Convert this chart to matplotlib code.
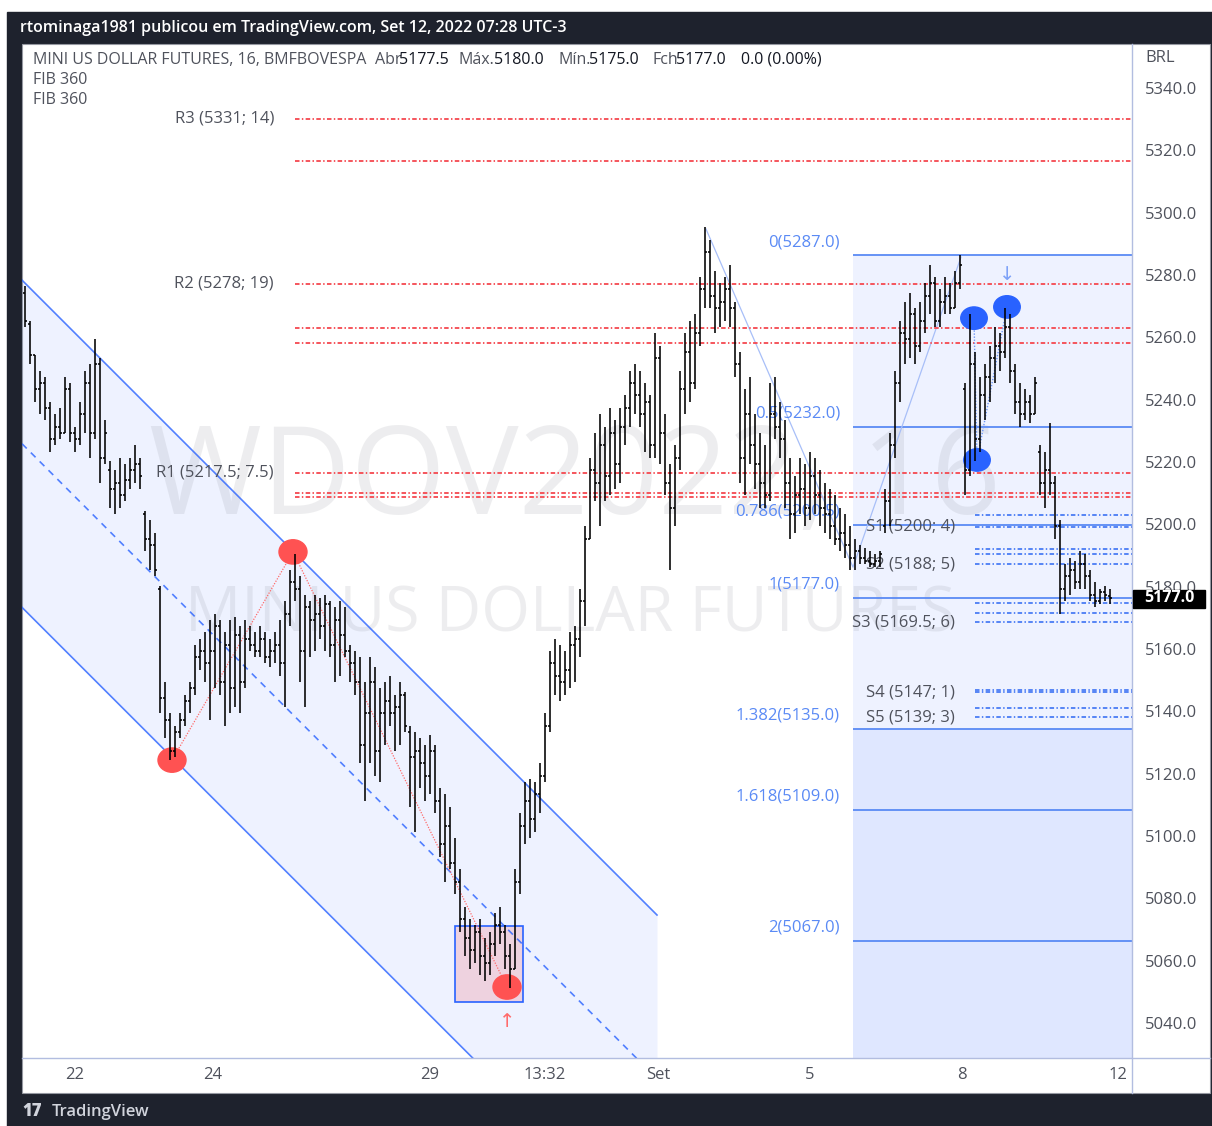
import matplotlib
matplotlib.use('Agg')
import matplotlib.pyplot as plt
from matplotlib.patches import Rectangle, Ellipse
from matplotlib.collections import LineCollection
import matplotlib.transforms as mtransforms
from matplotlib.lines import Line2D

plt.rcParams['font.family'] = ['Open Sans', 'DejaVu Sans']

# ---------------- data (16-min OHLC bars, WDOV2022) ----------------
opens = [5275, 5265, 5255, 5244, 5246, 5238, 5228, 5232, 5230, 5244,
         5230, 5228, 5236, 5246, 5230, 5252, 5222, 5218, 5212, 5214,
         5210, 5215, 5218, 5220, 5204, 5196, 5194, 5180, 5145, 5138,
         5128, 5134, 5138, 5144, 5148, 5158, 5160, 5156, 5160, 5168,
         5150, 5162, 5148, 5165, 5150, 5164, 5162, 5160, 5164, 5158,
         5160, 5162, 5156, 5172, 5182, 5180, 5160, 5174, 5170, 5172,
         5168, 5175, 5162, 5170, 5165, 5160, 5156, 5150, 5130, 5140,
         5150, 5128, 5140, 5144, 5140, 5142, 5146, 5134, 5126, 5128,
         5124, 5120, 5128, 5112, 5098, 5104, 5092, 5086, 5074, 5068,
         5064, 5070, 5062, 5060, 5066, 5072, 5070, 5062, 5058, 5086,
         5104, 5112, 5106, 5114, 5120, 5136, 5156, 5152, 5150, 5154,
         5162, 5164, 5176, 5196, 5218, 5214, 5226, 5216, 5230, 5220,
         5232, 5238, 5246, 5242, 5236, 5240, 5226, 5254, 5230, 5214,
         5206, 5222, 5244, 5256, 5246, 5262, 5276, 5288, 5274, 5270,
         5272, 5276, 5270, 5252, 5222, 5236, 5226, 5220, 5214, 5210,
         5236, 5232, 5228, 5214, 5204, 5210, 5212, 5206, 5216, 5210,
         5206, 5204, 5200, 5196, 5198, 5194, 5190, 5192, 5190, 5189,
         5188, 5189, 5200, 5208, 5226, 5246, 5262, 5260, 5268, 5258,
         5266, 5274, 5278, 5266, 5272, 5274, 5270, 5278, 5244, 5218,
         5252, 5228, 5242, 5248, 5254, 5258, 5256, 5264, 5250, 5240,
         5236, 5240, 5236, 5224, 5214, 5218, 5214, 5200, 5180, 5184,
         5186, 5182, 5188, 5184, 5178, 5176, 5179, 5177.5]
highs = [5277, 5266, 5255, 5250, 5248, 5240, 5236, 5238, 5248, 5246,
         5232, 5240, 5250, 5252, 5260, 5254, 5234, 5221, 5218, 5222,
         5220, 5222, 5226, 5222, 5205, 5202, 5198, 5181, 5150, 5140,
         5136, 5140, 5146, 5150, 5162, 5164, 5166, 5170, 5172, 5170,
         5166, 5170, 5171, 5168, 5170, 5168, 5166, 5168, 5166, 5164,
         5166, 5170, 5176, 5186, 5191, 5184, 5178, 5176, 5178, 5177,
         5178, 5176, 5174, 5176, 5174, 5162, 5160, 5158, 5150, 5158,
         5155, 5148, 5150, 5152, 5146, 5150, 5147, 5136, 5134, 5132,
         5130, 5133, 5130, 5116, 5114, 5110, 5100, 5090, 5078, 5074,
         5072, 5074, 5068, 5070, 5076, 5078, 5072, 5066, 5090, 5108,
         5118, 5119, 5118, 5124, 5140, 5160, 5164, 5162, 5160, 5166,
         5168, 5180, 5200, 5222, 5230, 5236, 5232, 5238, 5234, 5238,
         5242, 5250, 5252, 5250, 5246, 5242, 5262, 5258, 5236, 5220,
         5226, 5250, 5262, 5266, 5268, 5280, 5296, 5292, 5282, 5278,
         5280, 5284, 5272, 5256, 5244, 5248, 5236, 5230, 5226, 5246,
         5248, 5240, 5234, 5222, 5216, 5222, 5220, 5224, 5222, 5218,
         5214, 5212, 5210, 5206, 5204, 5200, 5196, 5194, 5193, 5192,
         5191, 5192, 5212, 5230, 5250, 5266, 5272, 5275, 5270, 5272,
         5278, 5284, 5280, 5276, 5280, 5278, 5282, 5287, 5246, 5268,
         5256, 5248, 5252, 5258, 5264, 5262, 5270, 5268, 5252, 5246,
         5244, 5242, 5248, 5226, 5224, 5233, 5216, 5202, 5188, 5190,
         5189, 5192, 5191, 5186, 5182, 5180, 5181, 5180]
lows = [5264, 5252, 5240, 5236, 5234, 5224, 5226, 5228, 5230, 5227,
        5224, 5226, 5230, 5222, 5228, 5214, 5220, 5206, 5204, 5206,
        5208, 5212, 5214, 5212, 5192, 5186, 5184, 5140, 5132, 5125,
        5126, 5132, 5136, 5140, 5146, 5154, 5150, 5138, 5148, 5146,
        5136, 5140, 5142, 5140, 5148, 5160, 5158, 5158, 5156, 5155,
        5156, 5152, 5142, 5168, 5176, 5150, 5142, 5158, 5160, 5164,
        5160, 5158, 5150, 5152, 5158, 5150, 5146, 5124, 5112, 5124,
        5120, 5118, 5130, 5136, 5128, 5130, 5134, 5110, 5102, 5116,
        5112, 5114, 5108, 5094, 5086, 5090, 5082, 5070, 5062, 5058,
        5060, 5056, 5054, 5056, 5062, 5066, 5058, 5052, 5058, 5082,
        5098, 5100, 5102, 5108, 5118, 5134, 5146, 5144, 5146, 5148,
        5150, 5158, 5168, 5196, 5208, 5200, 5208, 5210, 5212, 5214,
        5226, 5232, 5236, 5232, 5224, 5222, 5222, 5220, 5210, 5186,
        5200, 5218, 5236, 5240, 5244, 5258, 5270, 5270, 5262, 5264,
        5266, 5264, 5248, 5214, 5210, 5220, 5212, 5206, 5206, 5208,
        5228, 5222, 5206, 5196, 5198, 5204, 5200, 5202, 5204, 5200,
        5198, 5196, 5194, 5192, 5190, 5186, 5186, 5188, 5188, 5187,
        5187, 5187, 5198, 5200, 5222, 5240, 5252, 5254, 5252, 5256,
        5262, 5268, 5264, 5264, 5268, 5268, 5270, 5276, 5210, 5216,
        5221, 5224, 5234, 5240, 5246, 5250, 5254, 5246, 5236, 5232,
        5234, 5233, 5236, 5210, 5206, 5210, 5196, 5172, 5176, 5178,
        5180, 5180, 5180, 5176, 5174, 5175, 5176, 5175]
closes = [5266, 5255, 5244, 5246, 5238, 5228, 5232, 5230, 5244, 5230,
          5228, 5236, 5246, 5230, 5252, 5222, 5230, 5212, 5214, 5210,
          5215, 5218, 5220, 5216, 5196, 5194, 5186, 5145, 5138, 5128,
          5134, 5138, 5144, 5148, 5158, 5160, 5156, 5160, 5168, 5150,
          5162, 5148, 5165, 5150, 5164, 5162, 5160, 5164, 5158, 5160,
          5162, 5156, 5172, 5182, 5180, 5160, 5174, 5170, 5172, 5168,
          5175, 5162, 5170, 5165, 5160, 5156, 5150, 5130, 5140, 5150,
          5128, 5140, 5144, 5140, 5142, 5146, 5136, 5126, 5128, 5124,
          5120, 5128, 5112, 5098, 5104, 5092, 5086, 5074, 5068, 5064,
          5070, 5062, 5060, 5066, 5072, 5070, 5062, 5058, 5086, 5104,
          5112, 5106, 5114, 5120, 5136, 5156, 5152, 5150, 5154, 5162,
          5164, 5176, 5196, 5218, 5214, 5226, 5216, 5230, 5220, 5232,
          5238, 5246, 5242, 5236, 5240, 5226, 5254, 5230, 5214, 5206,
          5222, 5244, 5256, 5246, 5262, 5276, 5288, 5274, 5270, 5272,
          5276, 5270, 5252, 5222, 5236, 5226, 5220, 5214, 5210, 5236,
          5232, 5228, 5214, 5204, 5210, 5212, 5206, 5216, 5210, 5206,
          5204, 5200, 5196, 5198, 5194, 5190, 5192, 5190, 5189, 5188,
          5189, 5191, 5208, 5226, 5246, 5262, 5260, 5268, 5258, 5266,
          5274, 5278, 5266, 5272, 5274, 5270, 5278, 5284, 5218, 5252,
          5228, 5242, 5248, 5254, 5258, 5256, 5264, 5250, 5240, 5236,
          5240, 5236, 5246, 5214, 5218, 5214, 5200, 5180, 5184, 5186,
          5182, 5188, 5184, 5178, 5176, 5179, 5178, 5177]

date_labels = ['22', '24', '29', '13:32', 'Set', '5', '8', '12']
date_label_bars = [10, 37.6, 81, 104, 126.6, 157, 187.4, 218.6]
price_ticks = [5340, 5320, 5300, 5280, 5260, 5240, 5220, 5200, 5180,
               5160, 5140, 5120, 5100, 5080, 5060, 5040]

# pivot levels (FIB 360)
r_levels = [5330.7, 5317.2, 5277.8, 5263.7, 5258.7, 5217.2, 5210.8, 5209.5]
r_labels = [(5330.7, 'R3 (5331; 14)'), (5277.8, 'R2 (5278; 19)'),
            (5217.2, 'R1 (5217.5; 7.5)')]
s_levels = [5203.7, 5199.9, 5192.7, 5191.0, 5187.9, 5175.3, 5172.3,
            5169.2, 5147.5, 5146.7, 5141.7, 5138.7]
s_labels = [(5199.9, 'S1 (5200; 4)'), (5187.9, 'S2 (5188; 5)'),
            (5169.2, 'S3 (5169.5; 6)'), (5146.7, 'S4 (5147; 1)'),
            (5138.7, 'S5 (5139; 3)')]

# Fibonacci extension
fib_ratios = ['0', '0.5', '0.786', '1', '1.382', '1.618', '2']
fib_prices = [5287.0, 5232.0, 5200.5, 5177.0, 5135.0, 5109.0, 5067.0]
fib_pivots_x = [136.2, 165.6, 187.2]
fib_pivots_y = [5295.4, 5186.9, 5286.4]

# parallel channel
chan_x = [-0.6, 126.4]
chan_top = [5279.0, 5075.3]
chan_width = 105.0

# zig-zag pivots (red) and markers (blue)
zz_x = [29.4, 53.6, 96.4]
zz_y = [5125.0, 5191.8, 5052.2]
blue_x = [189.8, 196.4, 190.4]
blue_y = [5266.8, 5270.4, 5221.3]
box_x = [86.0, 99.6]
box_y = [5047.4, 5071.8]

last_price = 5177.0

# ---------------- figure ----------------
W, H = 1212, 1126
fig = plt.figure(figsize=(W / 100, H / 100), dpi=100)
fig.patch.set_facecolor('white')


def fx(x):
    return x / W


def fy(y):
    return 1 - y / H


DARK = '#1e222d'
GRAY = '#4f525c'
fig.patches.append(Rectangle((fx(7), fy(1126)), fx(1212) - fx(7), fy(12) - fy(1126),
                             transform=fig.transFigure, color=DARK, zorder=0))
fig.patches.append(Rectangle((fx(22), fy(1093)), (1210 - 22) / W, (1093 - 44) / H,
                             transform=fig.transFigure, facecolor='white',
                             edgecolor='#9598a1', lw=0.8, zorder=0.5))

ax = fig.add_axes([fx(22), fy(1058), (1132 - 22) / W, (1058 - 44) / H])
ax.set_zorder(2)
ax.set_facecolor('none')
ax.set_xlim(-0.6, 221.4)
ax.set_ylim(5029.42, 5354.76)
ax.axis('off')

BLUE = '#2962ff'
LBLUE = '#5a8af5'
FS = 12

# watermark
ax.text(0.498, 0.568, 'WDOV2022, 16', transform=ax.transAxes, fontsize=88,
        color='#787b86', alpha=0.13, ha='center', va='center', zorder=1.5)
ax.text(0.494, 0.437, 'MINI US DOLLAR FUTURES', transform=ax.transAxes, fontsize=45,
        color='#787b86', alpha=0.13, ha='center', va='center', zorder=1.5)

# channel
cx = chan_x
up = chan_top
mid = [v - chan_width / 2 for v in up]
lo = [v - chan_width for v in up]
ax.fill_between(cx, lo, up, color=BLUE, alpha=0.08, lw=0, zorder=1)
ax.plot(cx, up, color=BLUE, lw=1.2, alpha=0.8, zorder=3)
ax.plot(cx, lo, color=BLUE, lw=1.2, alpha=0.8, zorder=3)
ax.plot(cx, mid, color=BLUE, lw=1.2, alpha=0.8, ls=(0, (4, 3.5)), zorder=3)

# fib region
fx0 = fib_pivots_x[1] - 0.1
ax.fill_between([fx0, 221.4], fib_prices[4], fib_prices[0], color=BLUE, alpha=0.08, lw=0, zorder=1)
ax.fill_between([fx0, 221.4], 5029.42, fib_prices[4], color=BLUE, alpha=0.15, lw=0, zorder=1)
for r, p in zip(fib_ratios, fib_prices):
    ax.hlines(p, fx0, 221.4, color=LBLUE, lw=1.3, zorder=3)
    ax.text(163.0, p + 4.2, f'{r}({p:.1f})', color=LBLUE, fontsize=FS,
            ha='right', va='center', zorder=4)
ax.plot(fib_pivots_x, fib_pivots_y, color='#a8bff8', lw=0.9, zorder=3)

# pivot lines
dash = [(0, (2.5, 1.3, 0.8, 1.3))]
ax.hlines(r_levels, 54, 221.4, colors='#f5484f', lw=1.3, linestyles=dash, zorder=3)
for p, t in r_labels:
    ax.text(49.8, p, t, color=GRAY, fontsize=FS, ha='right', va='center', zorder=4)
ax.hlines(s_levels, 190, 221.4, colors='#4a7cf5', lw=1.3, linestyles=dash, zorder=3)
for p, t in s_labels:
    ax.text(186.0, p, t, color=GRAY, fontsize=FS, ha='right', va='center', zorder=4)

# zig-zag red
ax.plot(zz_x, zz_y, color='#ff6b6b', lw=0.9, ls=(0, (1, 1.2)), zorder=3)
for x, y in zip(zz_x, zz_y):
    ax.add_patch(Ellipse((x, y), 5.6, 7.8, color='#ff5252', zorder=4))
ax.add_patch(Rectangle((box_x[0], box_y[0]), box_x[1] - box_x[0], box_y[1] - box_y[0],
                       facecolor=(0.95, 0.21, 0.27, 0.17), edgecolor=BLUE, lw=1.2, zorder=2))
ax.text(zz_x[2], 5041.0, '\u2191', color='#ff6b6b', fontsize=14, ha='center', va='center', zorder=4)

# blue markers
ax.plot([blue_x[0], blue_x[2], blue_x[1]], [blue_y[0], blue_y[2], blue_y[1]],
        color='#6d97f7', lw=1.0, ls=(0, (1, 1.2)), zorder=3)
for x, y in zip(blue_x, blue_y):
    ax.add_patch(Ellipse((x, y), 5.3, 7.2, color=BLUE, zorder=4))
ax.text(blue_x[1], 5280.6, '\u2193', color='#7ea2f8', fontsize=14, ha='center', va='center', zorder=4)

# OHLC bars
segs = []
for i, (o, h, l, c) in enumerate(zip(opens, highs, lows, closes)):
    segs.append([(i, l), (i, h)])
    segs.append([(i - 0.4, o), (i, o)])
    segs.append([(i, c), (i + 0.4, c)])
ax.add_collection(LineCollection(segs, colors='black', linewidths=1.15, zorder=5))

# ---------------- axes decorations ----------------
fig.lines.append(Line2D([fx(1132), fx(1132)], [fy(44), fy(1093)], transform=fig.transFigure,
                        color='#b2bde0', lw=1.0, zorder=3))
fig.lines.append(Line2D([fx(22), fx(1210)], [fy(1058), fy(1058)], transform=fig.transFigure,
                        color='#b2bde0', lw=1.0, zorder=3))

ytrans = mtransforms.blended_transform_factory(fig.transFigure, ax.transData)
for p in price_ticks:
    fig.text(fx(1171), p, f'{p:.1f}', transform=ytrans, ha='center', va='center',
             fontsize=FS, color=GRAY, zorder=3)
fig.text(fx(1145), fy(58), 'BRL', ha='left', va='center', fontsize=FS, color=GRAY, zorder=3)

# last price tag
fig.patches.append(Rectangle((fx(1133), fy(608)), 72 / W, 18 / H, transform=fig.transFigure,
                             color='black', zorder=4))
fig.text(fx(1169), last_price, f'{last_price:.1f}', transform=ytrans, ha='center', va='center',
         fontsize=11.5, color='white', fontweight='bold', zorder=5)

xtrans = mtransforms.blended_transform_factory(ax.transData, fig.transFigure)
for lab, b in zip(date_labels, date_label_bars):
    fig.text(b, fy(1075), lab, transform=xtrans, ha='center', va='center',
             fontsize=FS, color=GRAY, zorder=3)

# legend / header texts
hdr = [(33, 'MINI US DOLLAR FUTURES, 16, BMFBOVESPA', GRAY),
       (375, 'Abr', GRAY), (399, '5177.5', '#131722'),
       (459, 'Máx.', GRAY), (494, '5180.0', '#131722'),
       (558, 'Mín.', GRAY), (589, '5175.0', '#131722'),
       (652, 'Fch', GRAY), (676, '5177.0', '#131722'),
       (741, '0.0 (0.00%)', '#131722')]
for x, t, c in hdr:
    fig.text(fx(x), fy(60), t, ha='left', va='center', fontsize=11.5, color=c, zorder=3)
fig.text(fx(33), fy(80), 'FIB 360', ha='left', va='center', fontsize=11.5, color=GRAY, zorder=3)
fig.text(fx(33), fy(100), 'FIB 360', ha='left', va='center', fontsize=11.5, color=GRAY, zorder=3)

fig.text(fx(20), fy(28), 'rtominaga1981 publicou em TradingView.com, Set 12, 2022 07:28 UTC-3',
         ha='left', va='center', fontsize=11.5, color='white', fontweight='semibold', zorder=3)
fig.text(fx(22), fy(1112), '17', ha='left', va='center', fontsize=12, color='#d1d4dc',
         fontweight='heavy', zorder=3)
fig.text(fx(52), fy(1112), 'TradingView', ha='left', va='center', fontsize=12, color='#d1d4dc',
         fontweight='semibold', zorder=3)

fig.savefig('out.png', dpi=100)
